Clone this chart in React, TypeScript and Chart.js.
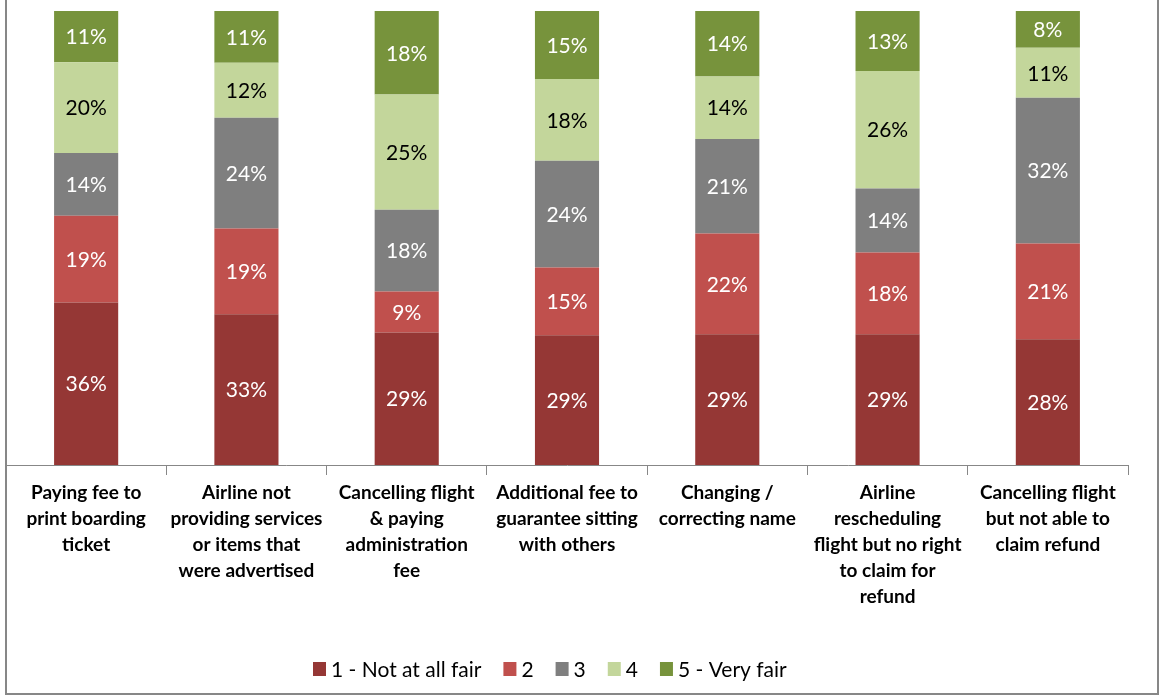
import React, { useEffect, useRef } from "react";
import { Chart, registerables } from "chart.js";

Chart.register(...registerables);

const categories: string[][] = [
  ["Paying fee to", "print boarding", "ticket"],
  ["Airline not", "providing services", "or items that", "were advertised"],
  ["Cancelling flight", "& paying", "administration", "fee"],
  ["Additional fee to", "guarantee sitting", "with others"],
  ["Changing /", "correcting name"],
  ["Airline", "rescheduling", "flight but no right", "to claim for", "refund"],
  ["Cancelling flight", "but not able to", "claim refund"],
];

const seriesNames = ["1 - Not at all fair", "2", "3", "4", "5 - Very fair"];
const notAtAllFair = [35.8, 33.2, 29.2, 28.6, 28.8, 28.8, 27.7];
const fair2 = [19.1, 18.9, 9.0, 14.9, 22.2, 18.0, 21.1];
const fair3 = [13.8, 24.4, 18.0, 23.5, 20.8, 14.1, 32.1];
const fair4 = [20.0, 12.1, 25.4, 18.0, 13.8, 25.9, 11.0];
const veryFair = [11.3, 11.4, 18.4, 15.0, 14.4, 13.2, 8.1];

const colors = ["#953735", "#C0504D", "#7F7F7F", "#C3D69B", "#77933C"];
const labelColors = ["#FFFFFF", "#FFFFFF", "#FFFFFF", "#000000", "#FFFFFF"];
const FONT = "Lato, 'Open Sans', sans-serif";

const dataLabelPlugin = {
  id: "dataLabels",
  afterDatasetsDraw(chart: any) {
    const ctx = chart.ctx;
    ctx.save();
    ctx.font = `21px ${FONT}`;
    ctx.textAlign = "center";
    ctx.textBaseline = "middle";
    chart.data.datasets.forEach((ds: any, di: number) => {
      const meta = chart.getDatasetMeta(di);
      meta.data.forEach((el: any, i: number) => {
        const v = ds.data[i];
        const { x, y } = el.getCenterPoint();
        ctx.fillStyle = labelColors[di];
        ctx.fillText(Math.round(v) + "%", x, y + 1);
      });
    });
    ctx.restore();
  },
};

const legendFramePlugin = {
  id: "legendFrame",
  afterDraw(chart: any) {
    const ctx = chart.ctx;
    ctx.save();
    // frame
    ctx.fillStyle = "#878787";
    ctx.fillRect(5, 0, 2, 695);
    ctx.fillRect(1157, 0, 2, 695);
    ctx.fillRect(5, 693, 1154, 2);
    // legend
    ctx.font = `21px ${FONT}`;
    ctx.textBaseline = "middle";
    ctx.textAlign = "left";
    let x = 313;
    const yMid = 669;
    seriesNames.forEach((name, i) => {
      ctx.fillStyle = colors[i];
      ctx.fillRect(x, yMid - 7, 13, 14);
      x += 18;
      ctx.fillStyle = "#000000";
      ctx.fillText(name, x, yMid + 1);
      x += ctx.measureText(name).width + 22;
    });
    ctx.restore();
  },
};

export default function App() {
  const ref = useRef<HTMLCanvasElement>(null);
  useEffect(() => {
    if (!ref.current) return;
    const datasets = [notAtAllFair, fair2, fair3, fair4, veryFair].map((d, i) => ({
      label: seriesNames[i],
      data: d,
      backgroundColor: colors[i],
      borderWidth: 0,
      barPercentage: 0.4,
      categoryPercentage: 1,
    }));
    const chart = new Chart(ref.current, {
      type: "bar",
      data: { labels: categories, datasets },
      options: {
        animation: false,
        responsive: false,
        layout: { padding: { left: 6, right: 32, top: 11, bottom: 0 } },
        plugins: { legend: { display: false }, tooltip: { enabled: false } },
        scales: {
          x: {
            stacked: true,
            afterFit: (scale: any) => {
              scale.height = 233;
            },
            border: { display: true, color: "#878787", width: 1 },
            grid: {
              display: true,
              offset: true,
              drawOnChartArea: false,
              drawTicks: true,
              tickLength: 10,
              color: "#878787",
            },
            ticks: {
              autoSkip: false,
              maxRotation: 0,
              minRotation: 0,
              padding: 5,
              color: "#000000",
              font: { family: FONT, size: 19, weight: "bold", lineHeight: "26px" },
            },
          },
          y: {
            stacked: true,
            display: false,
            min: 0,
            max: 100,
          },
        },
      },
      plugins: [dataLabelPlugin, legendFramePlugin],
    } as any);
    return () => chart.destroy();
  }, []);
  return (
    <div style={{ position: "absolute", left: 0, top: 0, width: 1160, height: 698, background: "#fff" }}>
      <canvas ref={ref} width={1160} height={698} style={{ width: 1160, height: 698, display: "block" }} />
    </div>
  );
}
